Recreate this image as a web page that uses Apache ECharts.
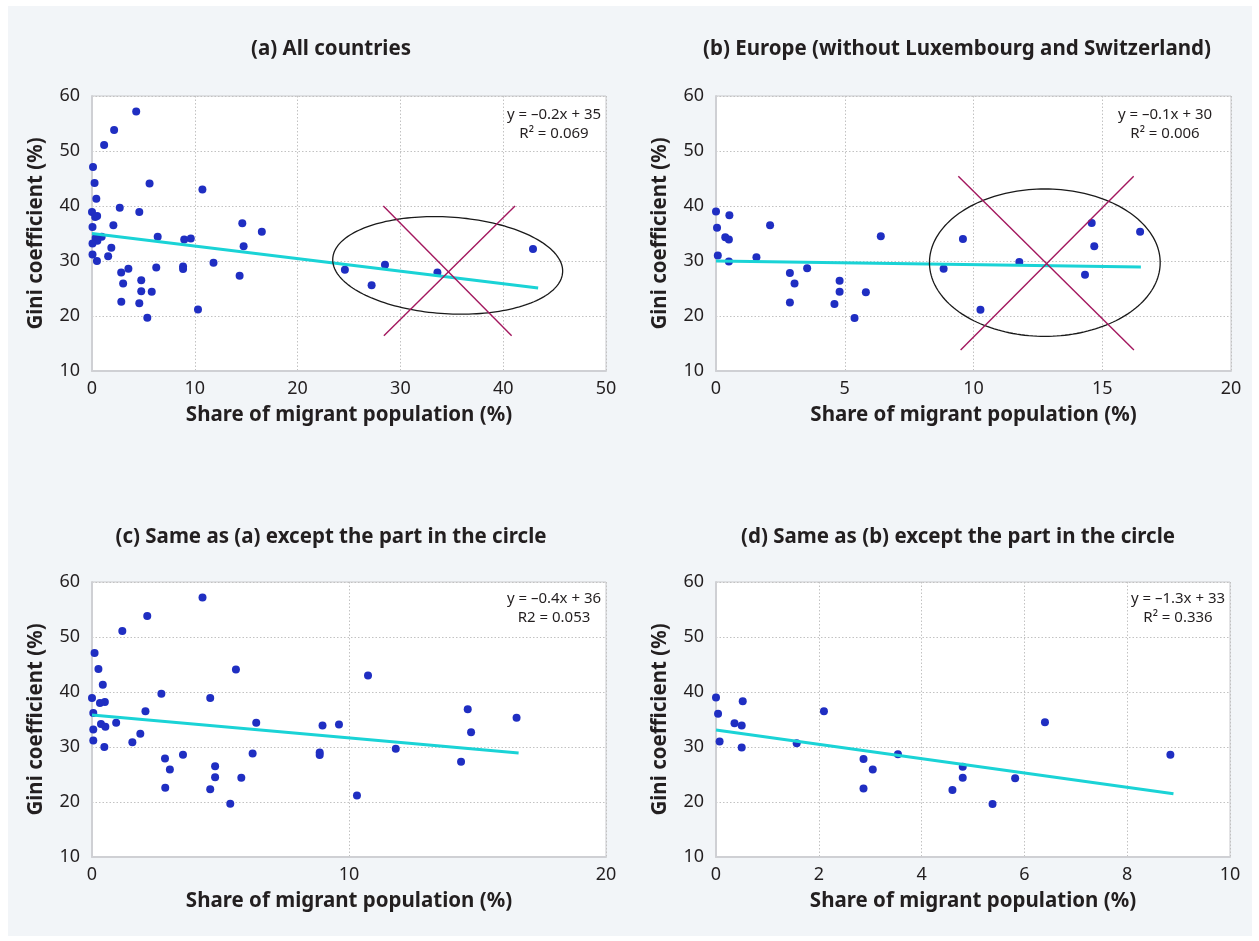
<!DOCTYPE html>
<html><head><meta charset="utf-8">
<script src="https://cdn.jsdelivr.net/npm/echarts@6/dist/echarts.min.js"></script>
<style>
html,body{margin:0;padding:0;background:#fff;}
#bg{position:absolute;left:8px;top:6px;width:1244px;height:930px;background:#f2f5f8;}
#chart{position:absolute;left:0;top:0;width:1259px;height:941px;}
</style></head>
<body><div id="bg"></div><div id="chart"></div>
<script>
// ---- Data ----
// Countries outside the circle (panel c); panel a = these + circled ones
const countriesX = [4.3,2.15,1.18,0.1,0.25,5.6,10.74,0.42,2.7,0,4.6,0.31,0.5,0.05,2.08,0.94,6.39,8.97,9.61,0.35,0.52,0.05,1.88,0.05,1.57,0.48,6.25,8.86,8.86,3.54,2.84,3.03,4.79,4.79,5.81,2.85,4.6,10.31,5.38,14.62,16.52,14.75,11.82,14.36];
const countriesY = [57.2,53.8,51.1,47.1,44.2,44.1,43.0,41.3,39.7,38.9,38.9,38.0,38.2,36.2,36.5,34.4,34.4,33.9,34.1,34.2,33.7,33.2,32.4,31.2,30.85,30.0,28.8,29.0,28.55,28.6,27.9,25.9,26.5,24.5,24.4,22.6,22.3,21.2,19.7,36.85,35.3,32.7,29.7,27.3];
const circledCountriesX = [24.6,28.5,27.2,33.6,42.9];
const circledCountriesY = [28.4,29.3,25.6,27.9,32.2];
// Europe outside the circle (panel d); panel b = these + circled ones
const europeX = [0,0.52,0.04,2.1,0.36,0.5,6.4,0.07,1.57,0.5,3.54,2.87,3.05,4.8,4.8,5.82,2.87,4.6,5.38,8.84];
const europeY = [39.0,38.3,36.05,36.5,34.3,33.9,34.5,31.0,30.7,29.9,28.7,27.8,25.9,26.4,24.4,24.3,22.45,22.2,19.65,28.6];
const circledEuropeX = [9.59,10.27,11.78,14.59,16.47,14.69,14.33];
const circledEuropeY = [34.0,21.15,29.8,36.9,35.3,32.7,27.5];
// Trend line end points
const trendAX = [0,43.4], trendAY = [35.0,25.1];
const trendBX = [0,16.5], trendBY = [30.0,28.9];
const trendCX = [0,16.6], trendCY = [35.8,28.9];
const trendDX = [0,8.9],  trendDY = [33.1,21.5];
// Texts
const panelTitles = ['(a) All countries','(b) Europe (without Luxembourg and Switzerland)','(c) Same as (a) except the part in the circle','(d) Same as (b) except the part in the circle'];
const equationLines = [['y = –0.2x + 35','R² = 0.069'],['y = –0.1x + 30','R² = 0.006'],['y = –0.4x + 36','R2 = 0.053'],['y = –1.3x + 33','R² = 0.336']];
const xAxisTitle = 'Share of migrant population (%)';
const yAxisTitle = 'Gini coefficient (%)';
const xMax = [50,20,20,10], xStep = [10,5,10,2];
const yMin = 10, yMax = 60, yStep = 10;

// ---- Layout / style ----
const FONT = '"Noto Sans", "Open Sans", sans-serif';
const grids = [
  {left:92, top:96, width:514, height:275},
  {left:716, top:96, width:515, height:275},
  {left:92, top:582, width:514, height:275},
  {left:716, top:582, width:514, height:275}
];
const titleCenters = [[331,49],[957,49],[331,537],[958,537]];
const eqCenters = [[554,115],[1165,115],[554,599],[1178,599]];
const DOT = '#1f2ec2', TREND = '#1ad3d6', CROSS = '#a3175e';

const zip = (xs, ys) => xs.map((x,i)=>[x, ys[i]]);
const scatterData = [
  zip(countriesX.concat(circledCountriesX), countriesY.concat(circledCountriesY)),
  zip(europeX.concat(circledEuropeX), europeY.concat(circledEuropeY)),
  zip(countriesX, countriesY),
  zip(europeX, europeY)
];
const trendData = [zip(trendAX,trendAY), zip(trendBX,trendBY), zip(trendCX,trendCY), zip(trendDX,trendDY)];

const splitLine = {show:true, lineStyle:{color:'#c2c2c2', type:[1.5,2], width:1}};
const chart = echarts.init(document.getElementById('chart'), null, {renderer:'canvas'});
const option = {
  animation:false,
  backgroundColor:'transparent',
  textStyle:{fontFamily:FONT},
  grid: grids.map(g => Object.assign({show:true, backgroundColor:'#ffffff', borderColor:'#c9c9cd', borderWidth:1}, g)),
  xAxis: grids.map((g,i)=>({
    type:'value', gridIndex:i, min:0, max:xMax[i], interval:xStep[i],
    name:xAxisTitle, nameLocation:'middle', nameGap:34,
    nameTextStyle:{fontFamily:FONT, fontWeight:'bold', fontSize:20.5, color:'#231f20'},
    axisLine:{show:true, onZero:false, lineStyle:{color:'#cfd0d4', width:2}},
    axisTick:{show:false},
    axisLabel:{fontFamily:FONT, fontSize:18, color:'#231f20', margin:9},
    splitLine: splitLine
  })),
  yAxis: grids.map((g,i)=>({
    type:'value', gridIndex:i, min:yMin, max:yMax, interval:yStep,
    name:yAxisTitle, nameLocation:'middle', nameGap:45,
    nameTextStyle:{fontFamily:FONT, fontWeight:'bold', fontSize:20.5, color:'#231f20'},
    axisLine:{show:true, onZero:false, lineStyle:{color:'#cfd0d4', width:2}},
    axisTick:{show:false},
    axisLabel:{fontFamily:FONT, fontSize:18, color:'#231f20', margin:12},
    splitLine: splitLine
  })),
  series: [].concat(
    scatterData.map((d,i)=>({type:'scatter', xAxisIndex:i, yAxisIndex:i, data:d, symbolSize:8, itemStyle:{color:DOT, opacity:1}, z:2})),
    trendData.map((d,i)=>({type:'line', xAxisIndex:i, yAxisIndex:i, data:d, showSymbol:false, symbol:'none', lineStyle:{color:TREND, width:3}, z:3}))
  )
};
chart.setOption(option);

// ---- Annotations: titles, equations, circles and crosses ----
const g = [];
panelTitles.forEach((t,i)=>{
  g.push({type:'text', x:titleCenters[i][0], y:titleCenters[i][1], z:10,
    style:{text:t, align:'center', verticalAlign:'middle', font:'bold 20.5px '+FONT, fill:'#231f20'}});
});
equationLines.forEach((lines,i)=>{
  lines.forEach((t,k)=>{
    g.push({type:'text', x:eqCenters[i][0], y:eqCenters[i][1]+k*18.5, z:10,
      style:{text:t, align:'center', verticalAlign:'middle', font:'15px '+FONT, fill:'#231f20'}});
  });
});
// ellipse definitions in data units: [gridIndex, cx, cy, rx, ry, rotation(rad)]
const ellipses = [[0, 34.6, 29.2, 11.2, 8.8, -0.06],[1, 12.77, 29.7, 4.48, 13.4, 0]];
ellipses.forEach(e=>{
  const c = chart.convertToPixel({gridIndex:e[0]}, [e[1], e[2]]);
  const p = chart.convertToPixel({gridIndex:e[0]}, [e[1]+e[3], e[2]+e[4]]);
  const rx = Math.abs(p[0]-c[0]), ry = Math.abs(p[1]-c[1]);
  const pts = [];
  for (let k=0;k<180;k++){
    const t = k/180*Math.PI*2;
    const ex = rx*Math.cos(t), ey = ry*Math.sin(t);
    const cs = Math.cos(e[5]), sn = Math.sin(e[5]);
    pts.push([c[0] + ex*cs + ey*sn, c[1] - ex*sn + ey*cs]);
  }
  g.push({type:'polygon', z:11, shape:{points:pts}, style:{fill:'none', stroke:'#1a1a1a', lineWidth:1.3}});
});
// cross lines in data units: [gridIndex, x1, y1, x2, y2]
const crosses = [[0,28.34,40,40.82,16.4],[0,41.15,40,28.39,16.4],[1,9.41,45.4,16.23,13.8],[1,16.22,45.4,9.5,13.8]];
crosses.forEach(c=>{
  const a = chart.convertToPixel({gridIndex:c[0]}, [c[1], c[2]]);
  const b = chart.convertToPixel({gridIndex:c[0]}, [c[3], c[4]]);
  g.push({type:'line', z:12, shape:{x1:a[0], y1:a[1], x2:b[0], y2:b[1]}, style:{stroke:CROSS, lineWidth:1.4}});
});
chart.setOption({graphic:g});
</script>
</body></html>
